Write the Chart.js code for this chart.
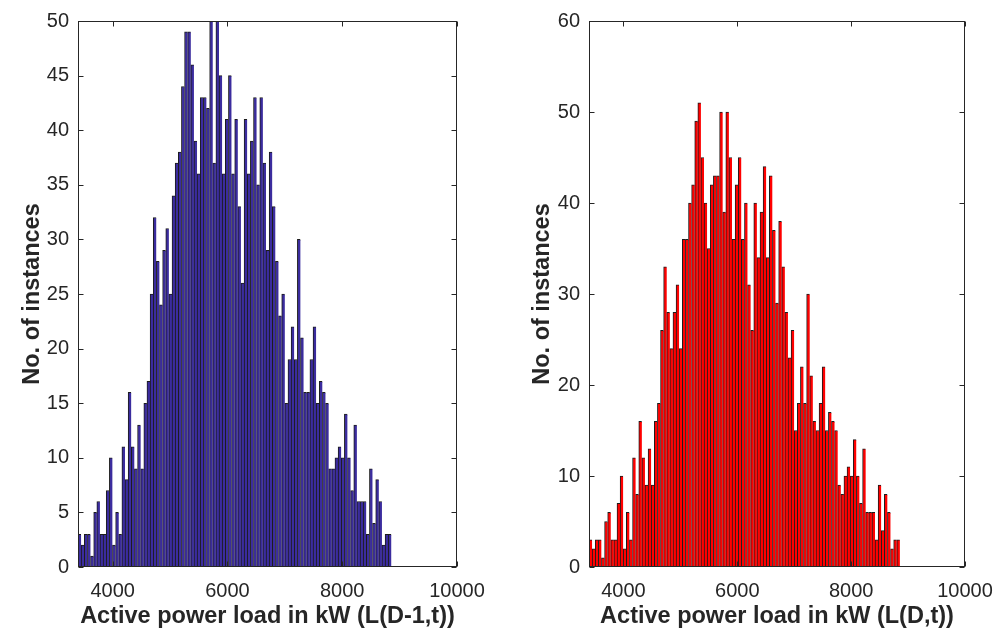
<!DOCTYPE html>
<html>
<head>
<meta charset="utf-8">
<script src="https://cdn.jsdelivr.net/npm/chart.js@4"></script>
<style>
  html, body { margin: 0; padding: 0; background: #fff; }
  #wrap { position: relative; width: 1006px; height: 635px; }
  #leftBox { position: absolute; left: 0; top: 0; }
  #rightBox { position: absolute; left: 500px; top: 0; }
</style>
</head>
<body>
<div id="wrap">
  <canvas id="leftBox" width="500" height="635"></canvas>
  <canvas id="rightBox" width="506" height="635"></canvas>
</div>
<script>
// histogram bins (kW)
const binStart = 3396;
const binWidth = 54.6;

// counts per bin, L(D-1,t)
const countsPrev = [
  3, 2, 3, 3, 1, 5, 6, 3, 3, 7,
  10, 2, 5, 3, 11, 8, 16, 11, 9, 13,
  9, 15, 17, 25, 32, 28, 24, 29, 31, 25,
  34, 37, 38, 44, 49, 49, 46, 39, 36, 43,
  43, 42, 50, 37, 50, 45, 36, 41, 45, 36,
  41, 33, 26, 41, 36, 39, 43, 35, 43, 37,
  29, 38, 33, 28, 23, 25, 15, 19, 22, 19,
  30, 21, 16, 16, 19, 22, 15, 17, 16, 15,
  9, 9, 10, 11, 10, 14, 10, 7, 13, 6,
  6, 6, 3, 9, 4, 8, 6, 2, 3, 3
];

// counts per bin, L(D,t)
const countsCurr = [
  3, 2, 3, 3, 1, 5, 6, 3, 3, 7,
  10, 2, 6, 3, 12, 8, 16, 12, 9, 13,
  9, 16, 18, 26, 33, 28, 24, 28, 31, 24,
  36, 36, 40, 42, 49, 51, 45, 40, 35, 42,
  43, 43, 50, 39, 50, 45, 36, 42, 45, 36,
  40, 31, 26, 40, 34, 39, 44, 34, 43, 37,
  29, 38, 33, 28, 23, 26, 15, 18, 22, 18,
  30, 21, 16, 15, 18, 22, 15, 17, 16, 15,
  9, 8, 10, 11, 10, 14, 10, 7, 13, 6,
  6, 6, 3, 9, 4, 8, 6, 2, 3, 3
];

const xTicks = [4000, 6000, 8000, 10000];
const xMin = 3396, xMax = 10000;

const ink = '#262626';
const tickFont = { family: "'Liberation Sans', Arial, Helvetica, sans-serif", size: 20 };
const titleFont = { family: "'Liberation Sans', Arial, Helvetica, sans-serif", size: 23.5, weight: 'bold' };

// box around the axes with MATLAB-style inward ticks
const framePlugin = {
  id: 'frame',
  afterDatasetsDraw(chart) {
    const { ctx, chartArea: a, scales: { x, y } } = chart;
    const L = Math.round(a.left) + 0.5, R = Math.round(a.right) - 0.5;
    const T = Math.round(a.top) + 0.5, B = Math.round(a.bottom) - 0.5;
    ctx.save();
    ctx.strokeStyle = ink;
    ctx.lineWidth = 1;
    ctx.strokeRect(L, T, R - L, B - T);
    ctx.beginPath();
    x.ticks.forEach(t => {
      const px = Math.round(x.getPixelForValue(t.value)) + 0.5;
      ctx.moveTo(px, B); ctx.lineTo(px, B - 5);
      ctx.moveTo(px, T); ctx.lineTo(px, T + 5);
    });
    y.ticks.forEach(t => {
      const py = Math.round(y.getPixelForValue(t.value)) + 0.5;
      ctx.moveTo(L, py); ctx.lineTo(L + 5, py);
      ctx.moveTo(R, py); ctx.lineTo(R - 5, py);
    });
    ctx.stroke();
    ctx.restore();
  }
};

function makeHist(id, counts, fill, yMax, yStep, xTitle, yAxisWidth, padRight, yTitlePad) {
  const data = counts.map((c, i) => ({ x: binStart + (i + 0.5) * binWidth, y: c }));
  return new Chart(document.getElementById(id), {
    type: 'bar',
    data: {
      datasets: [{
        data: data,
        backgroundColor: fill,
        borderColor: '#1c1c1c',
        borderWidth: { top: 1, left: 1, right: 0, bottom: 0 },
        borderSkipped: false,
        inflateAmount: 0.3,
        barPercentage: 1,
        categoryPercentage: 1
      }]
    },
    options: {
      responsive: false,
      animation: false,
      layout: { padding: { left: 0, right: padRight, top: 17, bottom: 0 } },
      plugins: { legend: { display: false }, tooltip: { enabled: false } },
      scales: {
        x: {
          type: 'linear',
          offset: false,
          min: xMin,
          max: xMax,
          grid: { display: false, drawTicks: false, offset: false },
          border: { display: false },
          afterBuildTicks: s => { s.ticks = xTicks.map(v => ({ value: v })); },
          afterFit: s => { s.height = 68; },
          ticks: { color: ink, font: tickFont, padding: 12, maxRotation: 0, autoSkip: false,
                   callback: v => String(v) },
          title: { display: true, text: xTitle, color: ink, font: titleFont, padding: { top: 0, bottom: 4 } }
        },
        y: {
          min: 0,
          max: yMax,
          grid: { display: false, drawTicks: false },
          border: { display: false },
          afterFit: s => { s.width = yAxisWidth; },
          ticks: { stepSize: yStep, color: ink, font: tickFont, padding: 9 },
          title: { display: true, text: 'No. of instances', color: ink, font: titleFont,
                   padding: { top: yTitlePad, bottom: 0 } }
        }
      }
    },
    plugins: [framePlugin]
  });
}

makeHist('leftBox', countsPrev, '#3b2c9e', 50, 5, 'Active power load in kW (L(D-1,t))', 78, 43, 18);
makeHist('rightBox', countsCurr, '#ff0000', 60, 10, 'Active power load in kW (L(D,t))', 89, 41, 28);
</script>
</body>
</html>
